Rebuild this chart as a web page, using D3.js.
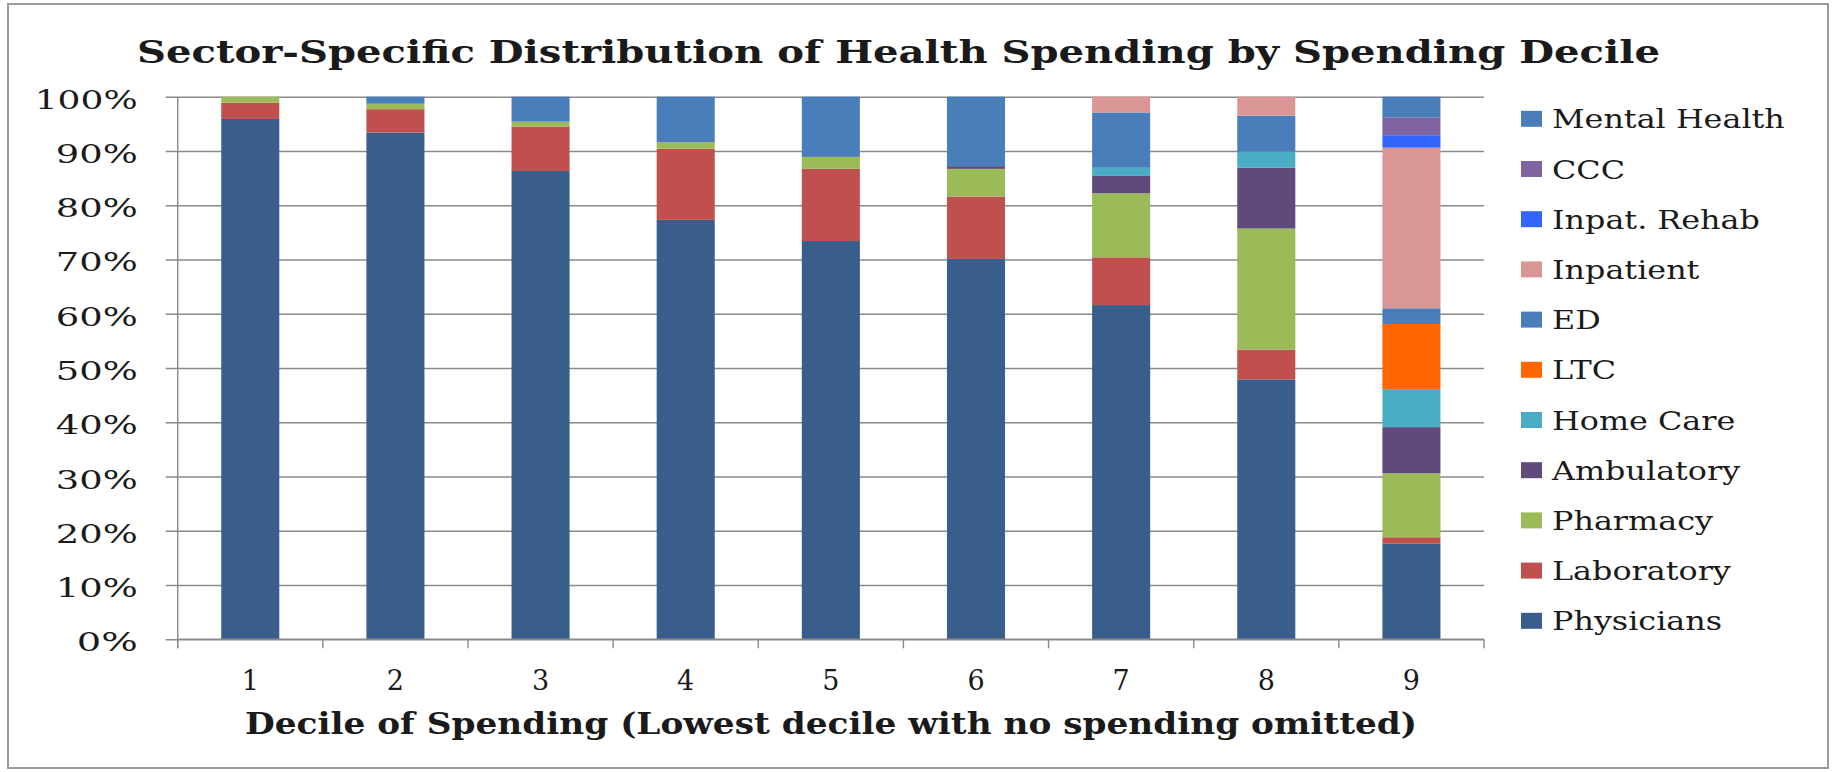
<!DOCTYPE html>
<html>
<head>
<meta charset="utf-8">
<script src="https://cdn.jsdelivr.net/npm/d3@7"></script>
<style>
  html, body { margin: 0; padding: 0; background: #fff; }
  svg { display: block; }
  text { font-family: "DejaVu Serif", "Liberation Serif", serif; fill: #1a1a1a; }
</style>
</head>
<body>
<svg id="chart" width="1833" height="772"></svg>
<script>
// ---------- data ----------
const deciles = ["1", "2", "3", "4", "5", "6", "7", "8", "9"];
const yTickValues = [0, 10, 20, 30, 40, 50, 60, 70, 80, 90, 100];

const physicians   = [95.9, 93.4, 86.3, 77.3, 73.4, 70.1, 61.6, 47.9, 17.6];
const laboratory   = [3.0, 4.3, 8.2, 13.1, 13.3, 11.5, 8.8, 5.5, 1.2];
const pharmacy     = [1.1, 1.0, 0.9, 1.2, 2.2, 5.1, 11.8, 22.3, 11.8];
const ambulatory   = [0, 0, 0, 0, 0, 0.5, 3.2, 11.2, 8.5];
const homeCare     = [0, 0, 0, 0, 0, 0, 1.5, 3.0, 7.0];
const ltc          = [0, 0, 0, 0, 0, 0, 0, 0, 12.0];
const ed           = [0, 1.3, 4.6, 8.4, 11.1, 12.8, 10.2, 6.6, 2.9];
const inpatient    = [0, 0, 0, 0, 0, 0, 2.9, 3.5, 29.6];
const inpatRehab   = [0, 0, 0, 0, 0, 0, 0, 0, 2.3];
const ccc          = [0, 0, 0, 0, 0, 0, 0, 0, 3.3];
const mentalHealth = [0, 0, 0, 0, 0, 0, 0, 0, 3.8];

const seriesNames = ["Physicians", "Laboratory", "Pharmacy", "Ambulatory", "Home Care",
                     "LTC", "ED", "Inpatient", "Inpat. Rehab", "CCC", "Mental Health"];
const seriesValues = [physicians, laboratory, pharmacy, ambulatory, homeCare,
                      ltc, ed, inpatient, inpatRehab, ccc, mentalHealth];
const seriesColors = ["#3A5E8C", "#C0504D", "#9BBB59", "#604A7B", "#4BACC6",
                      "#FF6600", "#4A7EBB", "#D99694", "#3366FF", "#8064A2", "#4A7EBB"];

const titleText = "Sector-Specific Distribution of Health Spending by Spending Decile";
const xTitleText = "Decile of Spending (Lowest decile with no spending omitted)";

// ---------- layout ----------
const svg = d3.select("#chart");
const plot = { left: 177.7, right: 1484, top: 96.7, bottom: 639.3 };
const gridColor = "#8a8a8a";

function fitWidth(sel, target) {
  sel.each(function() {
    const nat = this.getComputedTextLength();
    if (nat > 0) {
      d3.select(this).attr("textLength", target).attr("lengthAdjust", "spacingAndGlyphs");
    }
  });
}
function stretch(sel, factor) {
  sel.each(function() {
    const nat = this.getComputedTextLength();
    if (nat > 0) {
      d3.select(this).attr("textLength", nat * factor).attr("lengthAdjust", "spacingAndGlyphs");
    }
  });
}

// outer border
svg.append("rect")
  .attr("x", 8).attr("y", 4).attr("width", 1820).attr("height", 764)
  .attr("fill", "#fff").attr("stroke", "#9a9a9a").attr("stroke-width", 2);

// scales
const x = d3.scaleBand().domain(deciles)
  .range([plot.left, plot.right])
  .paddingInner(0.6).paddingOuter(0.3);
const y = d3.scaleLinear().domain([0, 100]).range([plot.bottom, plot.top]);

// stacked data
const table = deciles.map((d, i) => {
  const row = { decile: d };
  seriesNames.forEach((s, k) => { row[s] = seriesValues[k][i]; });
  return row;
});
const stacked = d3.stack().keys(seriesNames)(table);
const colorOf = d3.scaleOrdinal().domain(seriesNames).range(seriesColors);

// y axis with gridlines
const yAxis = d3.axisLeft(y)
  .tickValues(yTickValues)
  .tickFormat(d => d + "%")
  .tickSizeInner(-(plot.right - plot.left))
  .tickSizeOuter(0)
  .tickPadding(0);
const gy = svg.append("g").attr("transform", `translate(${plot.left},0)`).call(yAxis);
gy.select(".domain").attr("stroke", gridColor).attr("stroke-width", 1.4)
  .attr("d", `M0,${plot.top}V${plot.bottom + 9}`);
gy.selectAll(".tick line")
  .attr("x1", -12)
  .attr("stroke", gridColor).attr("stroke-width", 1.4);
gy.selectAll(".tick text")
  .attr("x", -40).attr("dy", null).attr("y", 11.5)
  .style("font-family", "DejaVu Serif, serif")
  .style("font-size", "26px").attr("fill", "#1a1a1a");
gy.selectAll(".tick text").each(function(d) {
  const s = String(d);
  fitWidth(d3.select(this), s.length * 21 + 40);
});

// bars
const layers = svg.append("g").selectAll("g")
  .data(stacked).join("g")
  .attr("fill", d => colorOf(d.key));
layers.selectAll("rect")
  .data(d => d)
  .join("rect")
  .attr("x", d => x(d.data.decile))
  .attr("width", x.bandwidth())
  .attr("y", d => y(d[1]))
  .attr("height", d => Math.max(0, y(d[0]) - y(d[1])));

// x axis
const step = x.step();
const xBoundaries = d3.range(deciles.length + 1).map(i => plot.left + i * step);
const xAxisG = svg.append("g");
xAxisG.append("line")
  .attr("x1", plot.left).attr("x2", plot.right)
  .attr("y1", plot.bottom).attr("y2", plot.bottom)
  .attr("stroke", gridColor).attr("stroke-width", 1.4);
xAxisG.selectAll("line.tk").data(xBoundaries).join("line")
  .attr("class", "tk")
  .attr("x1", d => d).attr("x2", d => d)
  .attr("y1", plot.bottom).attr("y2", plot.bottom + 9)
  .attr("stroke", gridColor).attr("stroke-width", 1.4);
xAxisG.selectAll("text").data(deciles).join("text")
  .attr("x", d => x(d) + x.bandwidth() / 2)
  .attr("y", 690)
  .attr("text-anchor", "middle")
  .style("font-size", "27px")
  .text(d => d);

// title
const title = svg.append("text")
  .attr("x", 898.5).attr("y", 63)
  .attr("text-anchor", "middle")
  .style("font-size", "31px").style("font-weight", "bold")
  .text(titleText);
fitWidth(title, 1523);

// x axis title
const xTitle = svg.append("text")
  .attr("x", 831).attr("y", 734)
  .attr("text-anchor", "middle")
  .style("font-size", "29px").style("font-weight", "bold")
  .text(xTitleText);
fitWidth(xTitle, 1172);

// legend
const legendNames = seriesNames.slice().reverse();
const legend = svg.append("g");
const legRows = legend.selectAll("g").data(legendNames).join("g")
  .attr("transform", (d, i) => `translate(1521,${128.3 + i * 50.2})`);
legRows.append("rect")
  .attr("x", 0).attr("y", -17.5)
  .attr("width", 21).attr("height", 16)
  .attr("fill", d => colorOf(d));
legRows.append("text")
  .attr("x", 31).attr("y", 0)
  .style("font-size", "26.5px")
  .text(d => d)
  .each(function() { stretch(d3.select(this), 1.2); });
</script>
</body>
</html>
